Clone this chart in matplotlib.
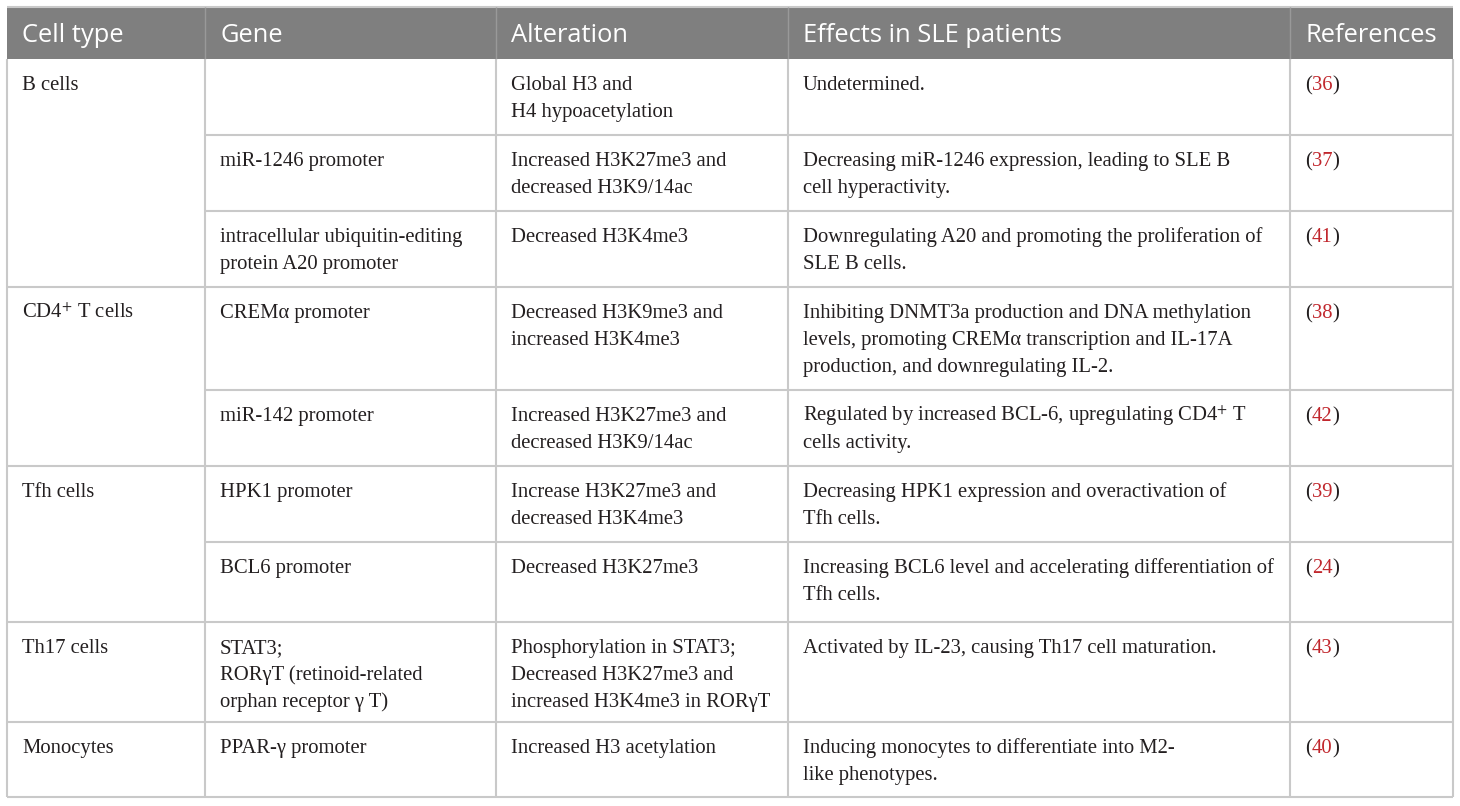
import matplotlib
matplotlib.use("Agg")
import matplotlib.pyplot as plt

plt.rcParams['mathtext.fontset'] = 'stix'

headers = ["Cell type", "Gene", "Alteration", "Effects in SLE patients", "References"]

cell_types = ["B cells", "CD4$^{+}$ T cells", "Tfh cells", "Th17 cells", "Monocytes"]
group_sizes = [3, 2, 2, 1, 1]

genes = [
    "",
    "miR-1246 promoter",
    "intracellular ubiquitin-editing\nprotein A20 promoter",
    "CREM\u03b1 promoter",
    "miR-142 promoter",
    "HPK1 promoter",
    "BCL6 promoter",
    "STAT3;\nROR\u03b3T (retinoid-related\norphan receptor \u03b3 T)",
    "PPAR-\u03b3 promoter",
]
alterations = [
    "Global H3 and\nH4 hypoacetylation",
    "Increased H3K27me3 and\ndecreased H3K9/14ac",
    "Decreased H3K4me3",
    "Decreased H3K9me3 and\nincreased H3K4me3",
    "Increased H3K27me3 and\ndecreased H3K9/14ac",
    "Increase H3K27me3 and\ndecreased H3K4me3",
    "Decreased H3K27me3",
    "Phosphorylation in STAT3;\nDecreased H3K27me3 and\nincreased H3K4me3 in ROR\u03b3T",
    "Increased H3 acetylation",
]
effects = [
    "Undetermined.",
    "Decreasing miR-1246 expression, leading to SLE B\ncell hyperactivity.",
    "Downregulating A20 and promoting the proliferation of\nSLE B cells.",
    "Inhibiting DNMT3a production and DNA methylation\nlevels, promoting CREM\u03b1 transcription and IL-17A\nproduction, and downregulating IL-2.",
    "Regulated by increased BCL-6, upregulating CD4$^{+}$ T\ncells activity.",
    "Decreasing HPK1 expression and overactivation of\nTfh cells.",
    "Increasing BCL6 level and accelerating differentiation of\nTfh cells.",
    "Activated by IL-23, causing Th17 cell maturation.",
    "Inducing monocytes to differentiate into M2-\nlike phenotypes.",
]
refs = ["36", "37", "41", "38", "42", "39", "24", "43", "40"]

# layout in pixels
W, H = 1460, 806
col_x = [7, 205, 496, 788, 1290, 1453]
row_y = [59, 135, 211, 287, 390, 466, 542, 622, 722, 797]
top = 7
pad_x = 15
base_off = 31
line_h = 27.2

grid_c = "#c9c9c9"
head_c = "#7f7f7f"
txt_c = "#231f20"
ref_c = "#c1272d"
serif = "Liberation Serif"
sans = "Open Sans"
body_fs = 14.85
head_fs = 18.4

fig = plt.figure(figsize=(W / 100, H / 100), dpi=100)
ax = fig.add_axes([0, 0, 1, 1])
ax.set_xlim(0, W)
ax.set_ylim(H, 0)
ax.axis("off")

# header
ax.add_patch(plt.Rectangle((col_x[0], top), col_x[-1] - col_x[0], row_y[0] - top,
                           facecolor=head_c, edgecolor="none"))
for i, h in enumerate(headers):
    ax.text(col_x[i] + pad_x, 42, h, color="white",
            fontsize=head_fs, family=sans, va="baseline", ha="left")
ax.hlines(top, col_x[0], col_x[-1], color=grid_c, lw=1.5)
for x in col_x[1:-1]:
    ax.vlines(x, top, row_y[0], color="#999999", lw=1.0)

# grid lines
group_starts = [0]
for g in group_sizes[:-1]:
    group_starts.append(group_starts[-1] + g)
for r in range(1, len(row_y)):
    x0 = col_x[0] if (r in group_starts or r == len(row_y) - 1) else col_x[1]
    ax.hlines(row_y[r], x0, col_x[-1], color=grid_c, lw=1.5)
for x in col_x:
    ax.vlines(x, row_y[0], row_y[-1], color=grid_c, lw=1.5)


def put(x, y0, s):
    for k, line in enumerate(s.split("\n")):
        ax.text(x, y0 + base_off + k * line_h, line, color=txt_c,
                fontsize=body_fs, family=serif, va="baseline", ha="left")


for g, name in enumerate(cell_types):
    put(col_x[0] + pad_x, row_y[group_starts[g]], name)

for r in range(len(genes)):
    y0 = row_y[r]
    put(col_x[1] + pad_x, y0, genes[r])
    put(col_x[2] + pad_x, y0, alterations[r])
    put(col_x[3] + pad_x, y0, effects[r])
    t1 = ax.text(col_x[4] + pad_x, y0 + base_off, "(", color=txt_c,
                 fontsize=body_fs, family=serif, va="baseline", ha="left")
    t2 = ax.annotate(refs[r], xy=(1, 0.5), xycoords=t1, va="center", ha="left",
                     color=ref_c, fontsize=body_fs, family=serif)
    ax.annotate(")", xy=(1, 0.5), xycoords=t2, va="center", ha="left",
                color=txt_c, fontsize=body_fs, family=serif)

fig.savefig("out.png", dpi=100)
